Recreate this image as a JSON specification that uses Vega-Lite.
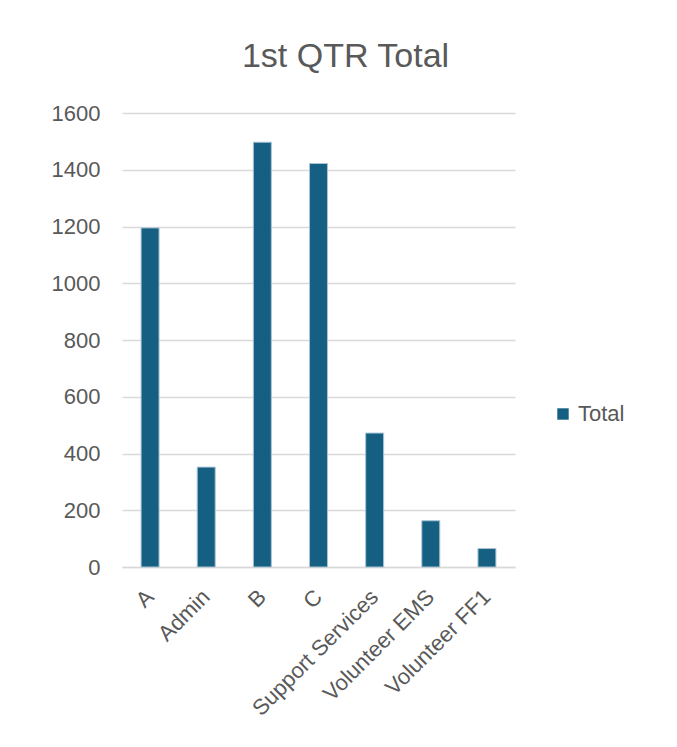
{
  "$schema": "https://vega.github.io/schema/vega-lite/v6.json",
  "width": 393,
  "height": 454,
  "autosize": {"type": "none"},
  "padding": {"left": 122, "top": 113, "right": 162, "bottom": 180},
  "background": "white",
  "title": {
    "text": "1st QTR Total",
    "anchor": "middle",
    "dx": 27,
    "offset": 28,
    "font": "Liberation Sans",
    "fontSize": 34,
    "fontWeight": "normal",
    "color": "#595959"
  },
  "data": {
    "values": [
      {"category": "A", "total": 1195},
      {"category": "Admin", "total": 352},
      {"category": "B", "total": 1497},
      {"category": "C", "total": 1422},
      {"category": "Support Services", "total": 472},
      {"category": "Volunteer EMS", "total": 163},
      {"category": "Volunteer FF1", "total": 65}
    ]
  },
  "mark": {"type": "bar", "stroke": "#a9c3d3", "strokeWidth": 1},
  "encoding": {
    "x": {
      "field": "category",
      "type": "nominal",
      "sort": null,
      "scale": {"paddingInner": 0.68, "paddingOuter": 0.34},
      "axis": {
        "title": null,
        "labelAngle": -45,
        "labelAlign": "right",
        "labelBaseline": "middle",
        "labelPadding": 26,
        "labelFont": "Liberation Sans",
        "labelFontSize": 22,
        "labelColor": "#595959",
        "ticks": false,
        "domainColor": "#d9d9d9",
        "domainWidth": 1.5,
        "grid": false
      }
    },
    "y": {
      "field": "total",
      "type": "quantitative",
      "scale": {"domain": [0, 1600], "nice": false},
      "axis": {
        "title": null,
        "format": "d",
        "values": [0, 200, 400, 600, 800, 1000, 1200, 1400, 1600],
        "labelFont": "Liberation Sans",
        "labelFontSize": 22,
        "labelColor": "#595959",
        "labelPadding": 22,
        "ticks": false,
        "domain": false,
        "grid": true,
        "gridColor": "#d9d9d9",
        "gridWidth": 1.5
      }
    },
    "color": {
      "datum": "Total",
      "type": "nominal",
      "scale": {"range": ["#156082"]},
      "legend": {
        "title": null,
        "orient": "none",
        "legendX": 430,
        "legendY": 290,
        "padding": 0,
        "symbolType": "square",
        "symbolSize": 130,
        "symbolStrokeWidth": 0,
        "labelFont": "Liberation Sans",
        "labelFontSize": 22,
        "labelColor": "#595959",
        "labelOffset": 4
      }
    }
  },
  "config": {
    "view": {"stroke": null}
  }
}
